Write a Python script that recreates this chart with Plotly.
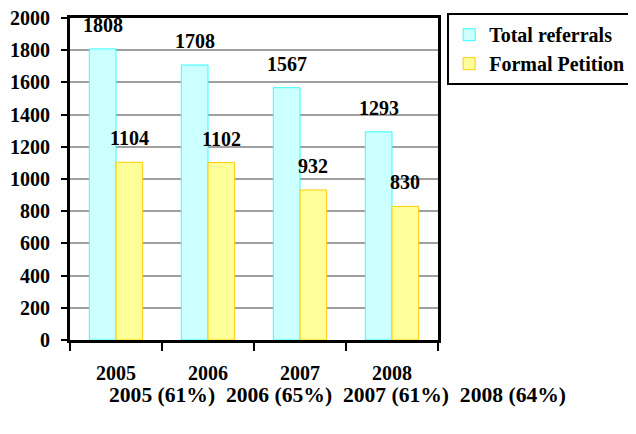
import plotly.graph_objects as go

years = ["2005", "2006", "2007", "2008"]
total_referrals = [1808, 1708, 1567, 1293]
formal_petition = [1104, 1102, 932, 830]
footer_labels = ["2005 (61%)", "2006 (65%)", "2007 (61%)", "2008 (64%)"]

font_family = "Liberation Serif, Times New Roman, serif"

fig = go.Figure()
fig.add_trace(go.Bar(x=years, y=total_referrals, name="<b>Total referrals</b>",
                     marker=dict(color="#CCFFFF", line=dict(color="#33FFFF", width=1))))
fig.add_trace(go.Bar(x=years, y=formal_petition, name="<b>Formal Petition</b>",
                     marker=dict(color="#FFFF99", line=dict(color="#FFCC00", width=1))))

annotations = []
for i in range(len(years)):
    annotations.append(dict(x=i, y=total_referrals[i], xref="x", yref="y", text=f"<b>{total_referrals[i]}</b>",
                            showarrow=False, xshift=-13, yshift=24, font=dict(size=20, family=font_family, color="black")))
    annotations.append(dict(x=i, y=formal_petition[i], xref="x", yref="y", text=f"<b>{formal_petition[i]}</b>",
                            showarrow=False, xshift=13, yshift=24, font=dict(size=20, family=font_family, color="black")))
sep = "\u00a0\u00a0"
annotations.append(dict(x=0.727, y=-0.171, xref="paper", yref="paper", xanchor="center", yanchor="middle",
                        text="<b>" + sep.join(footer_labels) + "</b>", showarrow=False,
                        font=dict(size=21.6, family=font_family, color="black")))

fig.update_layout(
    width=628, height=426,
    margin=dict(l=62, r=198, t=10, b=94, autoexpand=False),
    paper_bgcolor="white", plot_bgcolor="white",
    barmode="group", bargap=0.42, bargroupgap=0,
    font=dict(family=font_family, color="black"),
    showlegend=True,
    legend=dict(x=1.025, y=1.015, xanchor="left", yanchor="top",
                bordercolor="black", borderwidth=2,
                font=dict(size=20, family=font_family, color="black"),
                itemwidth=30, tracegroupgap=0),
    annotations=annotations,
)
fig.update_xaxes(type="category", range=[-0.5, len(years) - 0.5], automargin=False,
                 showline=True, linecolor="black", linewidth=3, mirror=True,
                 ticks="outside", tickson="boundaries", ticklen=8, tickwidth=2, tickcolor="black",
                 tickfont=dict(size=20, family=font_family, color="black"),
                 ticklabelstandoff=13, showgrid=False, tickangle=0,
                 tickprefix="<b>", ticksuffix="</b>")
fig.update_yaxes(range=[0, 2000], dtick=200, automargin=False,
                 showline=True, linecolor="black", linewidth=3, mirror=True,
                 ticks="outside", ticklen=6, tickwidth=2, tickcolor="black",
                 showgrid=True, gridcolor="#A0A0A0", gridwidth=2,
                 tickfont=dict(size=20, family=font_family, color="black"),
                 ticklabelstandoff=7, ticklabeloverflow="allow",
                 tickprefix="<b>", ticksuffix="</b>", zeroline=False)

fig.write_html("out.html")
